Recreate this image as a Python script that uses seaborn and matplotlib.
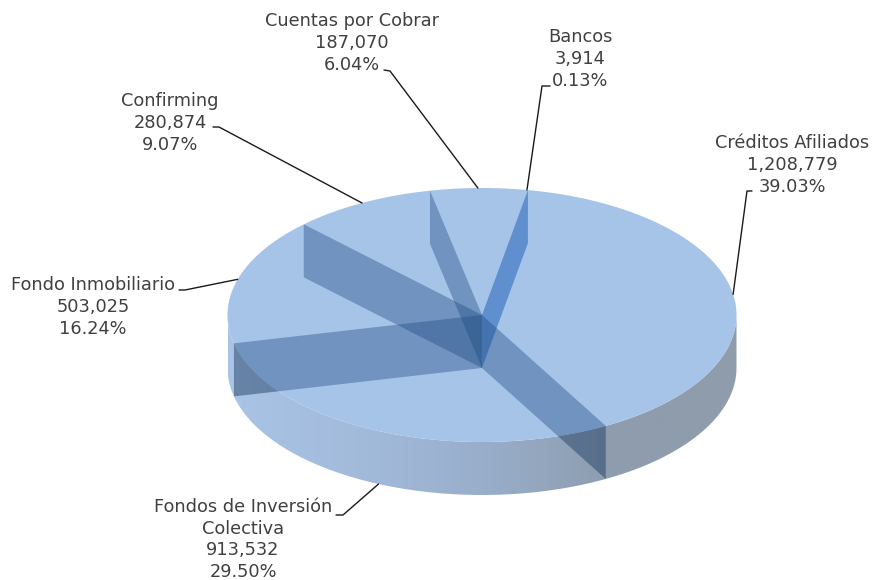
import numpy as np
import pandas as pd
import matplotlib.pyplot as plt
from matplotlib.patches import Polygon
from matplotlib.path import Path
import seaborn as sns

labels = ['Créditos Afiliados', 'Fondos de Inversión\nColectiva', 'Fondo Inmobiliario',
          'Confirming', 'Cuentas por Cobrar', 'Bancos']
values = [1208779, 913532, 503025, 280874, 187070, 3914]
percents = ['39.03%', '29.50%', '16.24%', '9.07%', '6.04%', '0.13%']
shown = ['1,208,779', '913,532', '503,025', '280,874', '187,070', '3,914']

df = pd.DataFrame({'label': labels, 'value': values, 'pct': percents, 'shown': shown})
df['sweep'] = df['value'] / df['value'].sum() * 360

sns.set_theme(style='white')
plt.rcParams['font.family'] = ['DejaVu Sans']

# pie geometry in pixels, y pointing down
cx, cy, a, b, depth = 482, 315, 254.5, 127, 53
start = -79.6

fig = plt.figure(figsize=(8.72, 5.8), dpi=100)
ax = fig.add_axes([0, 0, 1, 1])


def rim(t, drop=0):
    t = np.radians(t)
    return cx + a * np.cos(t), cy + b * np.sin(t) + drop


# outer wall, shaded left to right
ts = np.linspace(0, 180, 200)
x0, y0 = rim(ts)
x1, y1 = rim(ts[::-1], depth)
wall = np.r_[np.c_[x0, y0], np.c_[x1, y1]]
wall_path = Path(np.r_[wall, wall[:1]])
cmap = sns.blend_palette(['#a9c4e6', '#a3bbdb', '#98aecb', '#8e9dae', '#8e9cac'], as_cmap=True)
im = ax.imshow(np.linspace(0, 1, 256)[None, :], cmap=cmap, aspect='auto',
               extent=(cx - a, cx + a, cy + b + depth, cy), zorder=1)
im.set_clip_path(wall_path, ax.transData)

# top face
ts = np.linspace(0, 360, 400)
ax.add_patch(Polygon(np.c_[rim(ts)], fc='#a6c3e8', ec='none', zorder=2))

# inner radial walls seen through the top
bounds = start + np.r_[0, df['sweep'].cumsum().values]
for i, t in enumerate(bounds[1:]):
    # Bancos is so thin that its two walls read as one, keep only the last
    if i == len(df) - 2:
        continue
    px, py = rim(t)
    last = i == len(df) - 1
    corners = [(cx, cy), (px, py), (px, py + depth), (cx, cy + depth)]
    ax.add_patch(Polygon(corners, fc='#4e83c9' if last else '#1f4b82', ec='none',
                         alpha=0.8 if last else 0.4, zorder=2.5 if last else 3))
    # extra shade where the wall shows through the outer side
    shade = Polygon(corners, fc='#282828', ec='none', alpha=0.15, zorder=3)
    ax.add_patch(shade)
    shade.set_clip_path(wall_path, ax.transData)

# labels and leader lines
text_pos = [(792, 165), (243, 539.5), (93, 307), (170, 123), (352, 43), (580, 59)]
elbows = [[(752, 191), (747, 191)], [(336, 515), (343, 515)], [(179, 290), (185, 290)],
          [(213, 127), (219, 127)], [(384, 70), (390, 71)], [(550, 86), (542, 86)]]
mids = bounds[:-1] + df['sweep'].values / 2
for i, row in df.iterrows():
    ax.text(*text_pos[i], f"{row['label']}\n{row['shown']}\n{row['pct']}", ha='center', va='center',
            ma='center', fontsize=12.8, color='#404040', linespacing=1.25, zorder=5)
    ex, ey = rim(mids[i], depth if 0 < mids[i] % 360 < 180 else 0)
    pts = elbows[i] + [(ex, ey)]
    ax.plot(*zip(*pts), color='#1a1a1a', lw=1, zorder=4, solid_joinstyle='round')

ax.set_xlim(0, 872)
ax.set_ylim(580, 0)
ax.axis('off')
fig.savefig('out.png', dpi=100, facecolor='white')
